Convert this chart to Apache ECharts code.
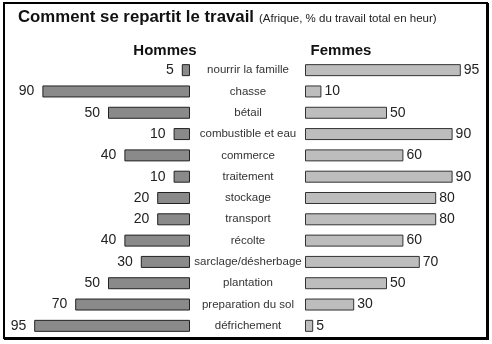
<!DOCTYPE html>
<html><head><meta charset="utf-8">
<script src="https://cdn.jsdelivr.net/npm/echarts@6/dist/echarts.min.js"></script>
<style>html,body{margin:0;padding:0;background:#fff}#c{width:492px;height:344px}</style>
</head><body><div id="c"></div>
<script>
var categories = ["nourrir la famille","chasse","bétail","combustible et eau","commerce","traitement","stockage","transport","récolte","sarclage/désherbage","plantation","preparation du sol","défrichement"];
var hommes = [5,90,50,10,40,10,20,20,40,30,50,70,95];
var femmes = [95,10,50,90,60,90,80,80,60,70,50,30,5];

var chart = echarts.init(document.getElementById('c'), null, {renderer:'canvas'});
var font = '"Liberation Sans", Arial, Helvetica, sans-serif';
var top0 = 59.5, height0 = 277;
chart.setOption({
  animation:false,
  backgroundColor:'#fff',
  title:[{
    text:'{a|Comment se repartit le travail} {b|(Afrique, % du travail total en heur)}',
    left:13, top:3,
    textStyle:{fontWeight:'normal', rich:{
      a:{fontFamily:font,fontWeight:'bold',fontSize:16.8,color:'#111',verticalAlign:'bottom'},
      b:{fontFamily:font,fontWeight:'normal',fontSize:11.5,color:'#222',verticalAlign:'bottom',padding:[0,0,1,0]}
    }}
  },{
    text:'Hommes', left:160, top:38, textAlign:'center',
    textStyle:{fontFamily:font,fontWeight:'bold',fontSize:15,color:'#111'}
  },{
    text:'Femmes', left:336, top:38, textAlign:'center',
    textStyle:{fontFamily:font,fontWeight:'bold',fontSize:15,color:'#111'}
  }],
  grid:[
    {left:26, width:164, top:top0, height:height0},
    {left:305, width:164, top:top0, height:height0}
  ],
  xAxis:[
    {gridIndex:0, type:'value', min:0, max:100, inverse:true, show:false},
    {gridIndex:1, type:'value', min:0, max:100, show:false}
  ],
  yAxis:[
    {gridIndex:0, type:'category', data:categories, inverse:true, show:false},
    {gridIndex:1, type:'category', data:categories, inverse:true,
     axisLine:{show:false}, axisTick:{show:false}, splitLine:{show:false},
     axisLabel:{show:true, align:'center', margin:57, fontFamily:font, fontSize:11.5, color:'#333'}}
  ],
  series:[
    {type:'bar', xAxisIndex:0, yAxisIndex:0, data:hommes, barWidth:12,
     itemStyle:{color:'#8a8a8a', borderColor:'#222', borderWidth:1},
     label:{show:true, position:'left', distance:8, fontFamily:font, fontSize:14, color:'#222'}},
    {type:'bar', xAxisIndex:1, yAxisIndex:1, data:femmes, barWidth:12,
     itemStyle:{color:'#bdbdbd', borderColor:'#333', borderWidth:1},
     label:{show:true, position:'right', distance:3, fontFamily:font, fontSize:14, color:'#222'}}
  ],
  graphic:[
    {type:'rect', shape:{x:4,y:3,width:483,height:335}, style:{fill:'none',stroke:'#000',lineWidth:2}, z:100},
    {type:'line', shape:{x1:487.5,y1:3,x2:487.5,y2:339.5}, style:{stroke:'#000',lineWidth:3}, z:100},
    {type:'line', shape:{x1:4,y1:338.5,x2:489,y2:338.5}, style:{stroke:'#000',lineWidth:3}, z:100}
  ]
});
</script></body></html>
